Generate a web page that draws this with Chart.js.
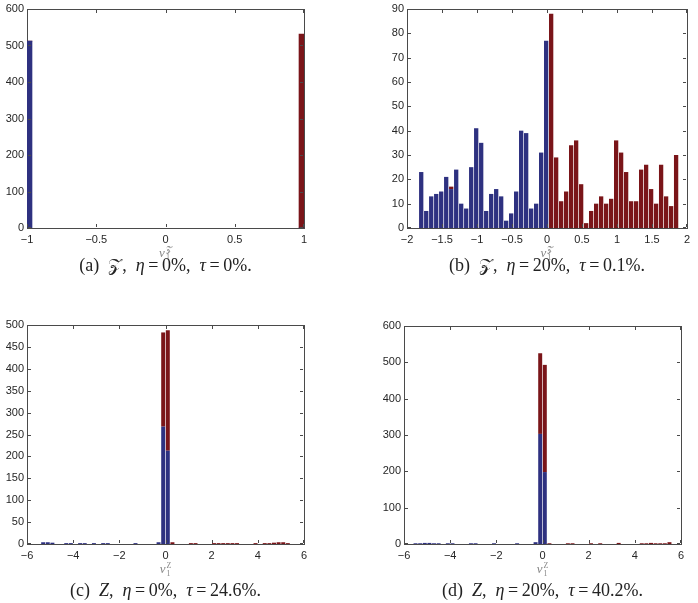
<!DOCTYPE html>
<html>
<head>
<meta charset="utf-8">
<script src="https://cdn.jsdelivr.net/npm/chart.js"></script>
<style>
  body { margin: 0; background: #fff; width: 698px; height: 603px; position: relative; overflow: hidden; }
  canvas { position: absolute; }
  .xl { position: absolute; font-family: 'Liberation Serif', serif; font-size: 13px; color: #888; text-align: center; line-height: 12px; }
  .xl .ss { display: inline-block; vertical-align: middle; font-size: 8px; line-height: 8px; text-align: left; font-style: normal; margin-left: 1px; }
  .cap { position: absolute; font-family: 'Liberation Serif', serif; font-size: 18px; color: #222; text-align: center; white-space: nowrap; }
</style>
</head>
<body>
<script>
    // 数据 (a)
    var aBins = [-0.982, 0.982];
    var aBlue = [512, 0];
    var aRed = [0, 531];

    // 数据 (b): 52 个等宽区间
    var bBlue = [23, 7, 13, 14, 15, 21, 16, 24, 10, 8, 25, 41, 35, 7, 14, 16, 13, 3, 6, 15, 40, 39, 8, 10, 31, 77,
                 0, 0, 0, 0, 0, 0, 0, 0, 0, 0, 0, 0, 0, 0, 0, 0, 0, 0, 0, 0, 0, 0, 0, 0, 0, 0];
    var bRed = [0, 0, 0, 0, 0, 0, 1, 0, 0, 0, 0, 0, 0, 0, 0, 0, 0, 0, 0, 0, 0, 0, 0, 0, 0, 0,
                88, 29, 11, 15, 34, 36, 18, 2, 7, 10, 13, 10, 12, 36, 31, 23, 11, 11, 24, 26, 16, 10, 26, 13, 9, 30];
    var bStart = -1.797, bWidth = 0.0714;
    var bBins = bBlue.map(function(_, i) { return +(bStart + i * bWidth).toFixed(4); });

    // 数据 (c)
    var cBins = [-5.3, -5.1, -4.9, -4.3, -4.1, -3.7, -3.5, -3.1, -2.7, -2.5, -1.3, -0.3, -0.1, 0.1, 0.3,
                 1.1, 1.3, 2.1, 2.3, 2.5, 2.7, 2.9, 3.1, 3.9, 4.3, 4.5, 4.7, 4.9, 5.1, 5.3];
    var cBlue = [4, 4, 3, 2, 2, 2, 2, 2, 2, 2, 2, 4, 268, 213, 0,
                 0, 0, 0, 0, 0, 0, 0, 0, 0, 0, 0, 0, 0, 0, 0];
    var cRed = [0, 0, 0, 0, 0, 0, 0, 0, 0, 0, 0, 0, 215, 275, 4,
                2, 2, 2, 2, 2, 2, 2, 2, 2, 2, 2, 3, 4, 4, 2];

    // 数据 (d)
    var dBins = [-5.5, -5.3, -5.1, -4.9, -4.7, -4.5, -4.1, -3.9, -3.1, -2.9, -2.1, -1.1, -0.3, -0.1,
                 0.1, 0.3, 1.1, 1.3, 2.1, 2.5, 3.3, 4.3, 4.5, 4.7, 4.9, 5.1, 5.3, 5.5];
    var dBlue = [2, 2, 3, 3, 2, 2, 2, 2, 2, 2, 2, 2, 5, 303,
                 198, 0, 0, 0, 0, 0, 0, 0, 0, 0, 0, 0, 0, 0];
    var dRed = [0, 0, 0, 0, 0, 0, 0, 0, 0, 0, 0, 0, 0, 222,
                295, 2, 2, 2, 2, 2, 3, 2, 2, 3, 2, 2, 2, 5];

    // 刻度
    var aXTicks = [-1, -0.5, 0, 0.5, 1];
    var aYTicks = [0, 100, 200, 300, 400, 500, 600];
    var bXTicks = [-2, -1.5, -1, -0.5, 0, 0.5, 1, 1.5, 2];
    var bYTicks = [0, 10, 20, 30, 40, 50, 60, 70, 80, 90];
    var cXTicks = [-6, -4, -2, 0, 2, 4, 6];
    var cYTicks = [0, 50, 100, 150, 200, 250, 300, 350, 400, 450, 500];
    var dXTicks = [-6, -4, -2, 0, 2, 4, 6];
    var dYTicks = [0, 100, 200, 300, 400, 500, 600];

    var BLUE = '#2e3180';
    var RED = '#7a1519';
    var AXIS = '#4a4a4a';

    // 向内的刻度线
    var inTicks = {
        id: 'inTicks',
        afterDraw: function(chart) {
            var a = chart.chartArea, ctx = chart.ctx;
            var xs = chart.scales.x, ys = chart.scales.y;
            var L = Math.round(a.left), R = Math.round(a.right);
            var T = Math.round(a.top), B = Math.round(a.bottom);
            ctx.save();
            ctx.fillStyle = AXIS;
            xs.ticks.forEach(function(t, i) {
                var px = Math.round(xs.getPixelForTick(i));
                if (px > R - 1) px = R - 1;
                ctx.fillRect(px, B - 4, 1, 3);
                ctx.fillRect(px, T + 1, 1, 3);
            });
            ys.ticks.forEach(function(t, i) {
                var py = Math.round(ys.getPixelForTick(i));
                if (py > B - 1) py = B - 1;
                ctx.fillRect(L + 1, py, 3, 1);
                ctx.fillRect(R - 4, py, 3, 1);
            });
            ctx.restore();
        }
    };

    function fmt(v) {
        return String(v).replace('-', '\u2212');
    }

    function makeChart(p, bins, blue, red, xTicks, yTicks) {
        var canvas = document.createElement('canvas');
        var w = p.R - p.L + p.yw + 12;
        var h = p.B - p.T + 10 + 22;
        canvas.width = w;
        canvas.height = h;
        canvas.style.left = (p.L - p.yw) + 'px';
        canvas.style.top = (p.T - 10) + 'px';
        document.body.appendChild(canvas);

        var tickFont = { family: 'Liberation Sans', size: 11 };
        var ds = { barPercentage: 1, categoryPercentage: 0.86, borderWidth: 0 };
        if (p.bar) ds.barThickness = p.bar;
        var xmin = xTicks[0], xmax = xTicks[xTicks.length - 1];
        var ymin = yTicks[0], ymax = yTicks[yTicks.length - 1];

        return new Chart(canvas.getContext('2d'), {
            type: 'bar',
            data: {
                datasets: [
                    Object.assign({ data: bins.map(function(x, i) { return { x: x, y: blue[i] }; }), backgroundColor: BLUE }, ds),
                    Object.assign({ data: bins.map(function(x, i) { return { x: x, y: red[i] }; }), backgroundColor: RED }, ds)
                ]
            },
            options: {
                responsive: false,
                animation: false,
                layout: { padding: { top: 10, right: 12, left: 0, bottom: 0 } },
                plugins: { legend: { display: false }, tooltip: { enabled: false } },
                scales: {
                    x: {
                        type: 'linear',
                        stacked: true,
                        offset: false,
                        min: xmin,
                        max: xmax,
                        grid: { display: false, offset: false, drawTicks: false },
                        border: { display: true, color: AXIS },
                        afterBuildTicks: function(s) { s.ticks = xTicks.map(function(v) { return { value: v }; }); },
                        afterFit: function(s) { s.height = 22; },
                        ticks: { color: '#262626', font: tickFont, padding: 5, maxRotation: 0, autoSkip: false,
                                 callback: function(v) { return fmt(v); } }
                    },
                    y: {
                        stacked: true,
                        min: ymin,
                        max: ymax,
                        grid: { display: false, drawTicks: false },
                        border: { display: true, color: AXIS },
                        afterBuildTicks: function(s) { s.ticks = yTicks.map(function(v) { return { value: v }; }); },
                        afterFit: function(s) { s.width = p.yw; },
                        ticks: { color: '#262626', font: tickFont, padding: 3, autoSkip: false,
                                 callback: function(v) { return fmt(v); } }
                    },
                    // 上边和右边的框线
                    x2: {
                        type: 'linear',
                        position: 'top',
                        min: xmin,
                        max: xmax,
                        offset: false,
                        grid: { display: false, drawTicks: false },
                        border: { display: true, color: AXIS },
                        ticks: { display: false },
                        afterFit: function(s) { s.height = 0; }
                    },
                    y2: {
                        type: 'linear',
                        position: 'right',
                        min: ymin,
                        max: ymax,
                        grid: { display: false, drawTicks: false },
                        border: { display: true, color: AXIS },
                        ticks: { display: false },
                        afterFit: function(s) { s.width = 0; }
                    }
                }
            },
            plugins: [inTicks]
        });
    }

    function addText(cls, html, left, width, top) {
        var d = document.createElement('div');
        d.className = cls;
        d.innerHTML = html;
        d.style.left = left + 'px';
        d.style.width = width + 'px';
        d.style.top = top + 'px';
        document.body.appendChild(d);
    }

    var pa = { L: 27, R: 304, T: 9, B: 228, yw: 27, bar: 5 };
    var pb = { L: 407, R: 687, T: 9, B: 228, yw: 40 };
    var pc = { L: 27, R: 304, T: 325, B: 544, yw: 27 };
    var pd = { L: 404, R: 681, T: 326, B: 544, yw: 40 };

    makeChart(pa, aBins, aBlue, aRed, aXTicks, aYTicks);
    makeChart(pb, bBins, bBlue, bRed, bXTicks, bYTicks);
    makeChart(pc, cBins, cBlue, cRed, cXTicks, cYTicks);
    makeChart(pd, dBins, dBlue, dRed, dXTicks, dYTicks);

    var calZ = '\uD835\uDCB5';
    function xlab(z) {
        return '<i>v</i><span class="ss">' + z + '<br>1</span>';
    }
    [[pa, calZ], [pb, calZ], [pc, 'Z'], [pd, 'Z']].forEach(function(q) {
        addText('xl', xlab(q[1]), q[0].L, q[0].R - q[0].L, q[0].B + 18);
    });

    var eq = '&thinsp;=&thinsp;';
    addText('cap', '(a)&nbsp; ' + calZ + ', &nbsp;<i>\u03b7</i>' + eq + '0%, &nbsp;<i>\u03c4</i>' + eq + '0%.', pa.L, pa.R - pa.L, 255);
    addText('cap', '(b)&nbsp; ' + calZ + ', &nbsp;<i>\u03b7</i>' + eq + '20%, &nbsp;<i>\u03c4</i>' + eq + '0.1%.', pb.L, pb.R - pb.L, 255);
    addText('cap', '(c)&nbsp; <i>Z</i>, &nbsp;<i>\u03b7</i>' + eq + '0%, &nbsp;<i>\u03c4</i>' + eq + '24.6%.', pc.L, pc.R - pc.L, 580);
    addText('cap', '(d)&nbsp; <i>Z</i>, &nbsp;<i>\u03b7</i>' + eq + '20%, &nbsp;<i>\u03c4</i>' + eq + '40.2%.', pd.L, pd.R - pd.L, 580);
</script>
</body>
</html>
